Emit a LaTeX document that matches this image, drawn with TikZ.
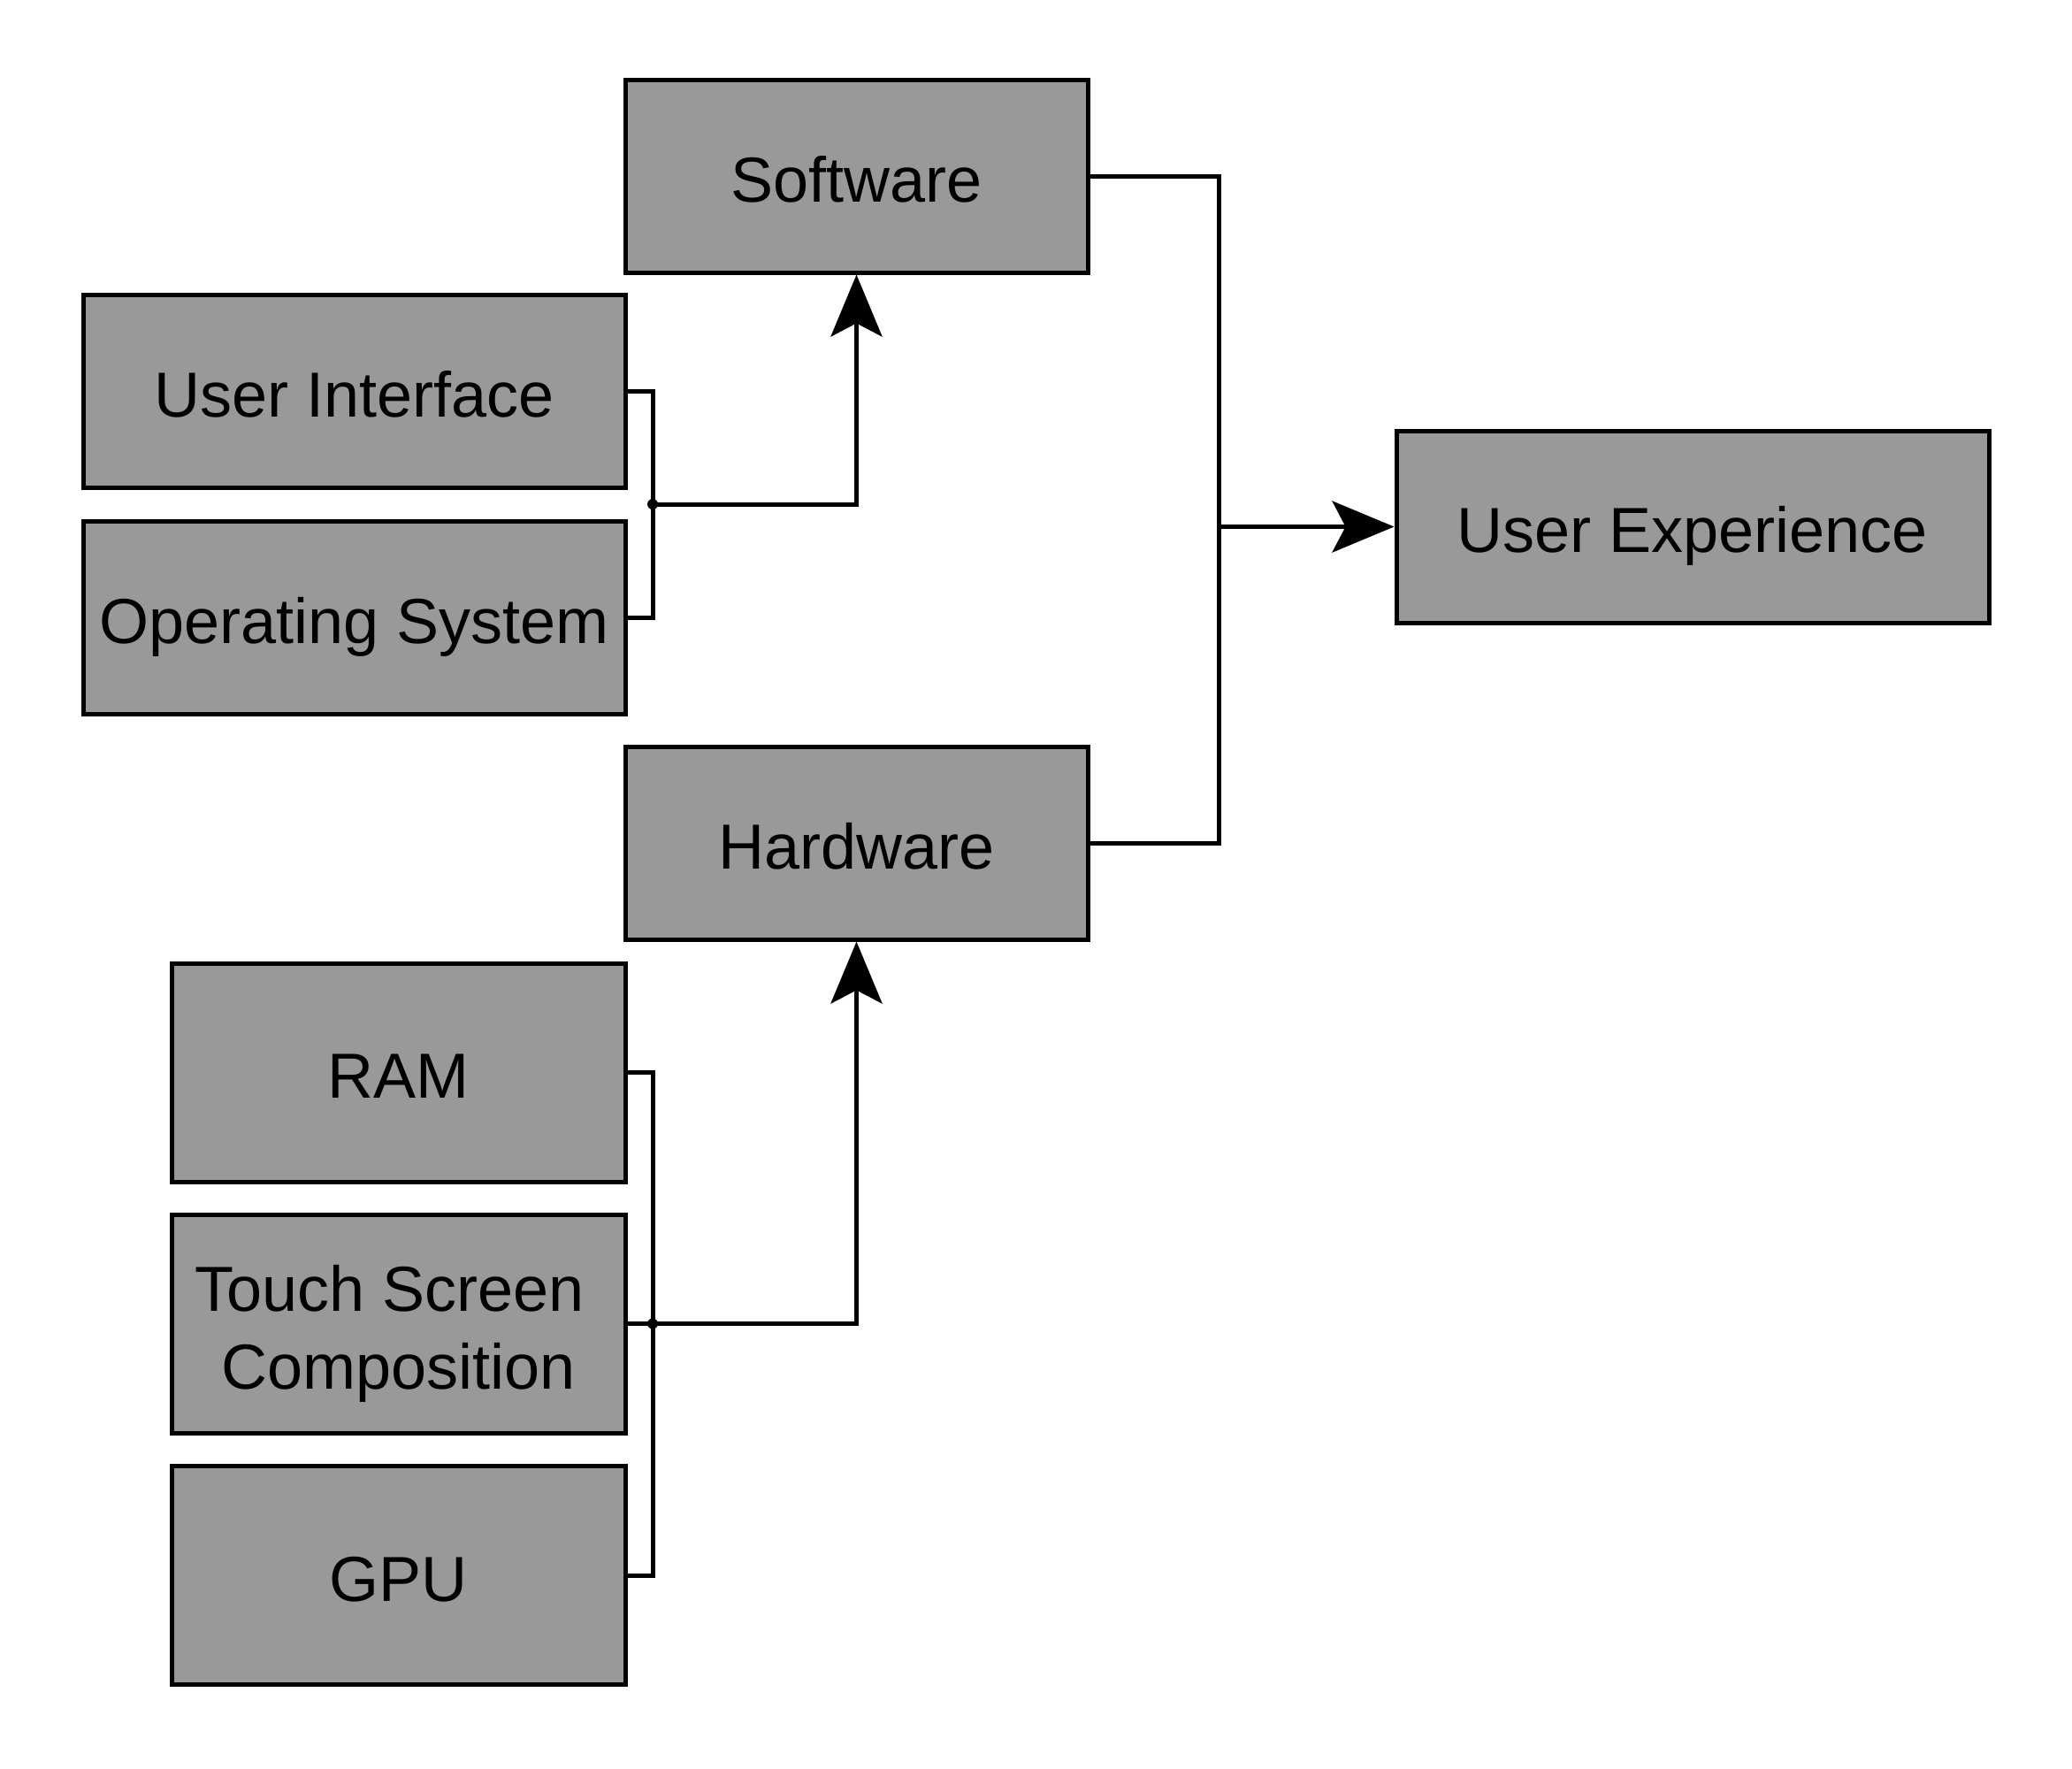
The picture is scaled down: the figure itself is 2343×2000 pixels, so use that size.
\documentclass[tikz,border=0pt]{standalone}
\usepackage{fontspec}
\setmainfont{Liberation Sans}
\usetikzlibrary{arrows.meta}
\definecolor{boxgray}{HTML}{999999}
\tikzset{
  box/.style={rectangle, draw=black, fill=boxgray, line width=5pt, inner sep=0pt,
    font=\fontsize{72}{88}\selectfont, align=center, text height=58pt, text depth=0pt},
  conn/.style={line width=5pt, draw=black},
  arr/.style={conn, -{Stealth[length=70pt, width=58pt, inset=15pt]}},
  jdot/.style={circle, fill=black, inner sep=0pt, minimum size=12pt}
}
\begin{document}
\begin{tikzpicture}[x=1pt,y=-1pt]
\useasboundingbox (0,0) rectangle (2343,2000);
\node[box, minimum width=523pt, minimum height=218pt] (sw) at (968.5,199) {Software};
\node[box, minimum width=613pt, minimum height=218pt] (ui) at (400.5,442) {User Interface};
\node[box, minimum width=613pt, minimum height=218pt] (os) at (400.5,698) {Operating System};
\node[box, minimum width=523pt, minimum height=218pt] (hw) at (968.5,953) {Hardware};
\node[box, minimum width=513pt, minimum height=247pt] (ram) at (450.5,1212.5) {RAM};
\node[box, minimum width=513pt, minimum height=247pt, text height=147pt] (touch) at (450.5,1496.5) {Touch Screen\kern20pt\\Composition};
\node[box, minimum width=513pt, minimum height=247pt] (gpu) at (450.5,1781) {GPU};
\node[box, minimum width=670pt, minimum height=217pt] (ux) at (1914,595.5) {User Experience};

\coordinate (jA) at (738,570);
\coordinate (jB) at (1378,595.5);
\coordinate (jC) at (738,1496.5);

\draw[conn] (ui.east) -| (jA);
\draw[conn] (os.east) -| (jA);
\draw[arr] (jA) -| (sw.south);
\node[jdot] (dA) at (jA) {};

\draw[conn] (sw.east) -| (jB);
\draw[conn] (hw.east) -| (jB);
\draw[arr] (jB) -- (ux.west);

\draw[conn] (ram.east) -| (jC);
\draw[conn] (gpu.east) -| (jC);
\draw[conn] (touch.east) -- (jC);
\draw[arr] (jC) -| (hw.south);
\node[jdot] (dC) at (jC) {};
\end{tikzpicture}
\end{document}
